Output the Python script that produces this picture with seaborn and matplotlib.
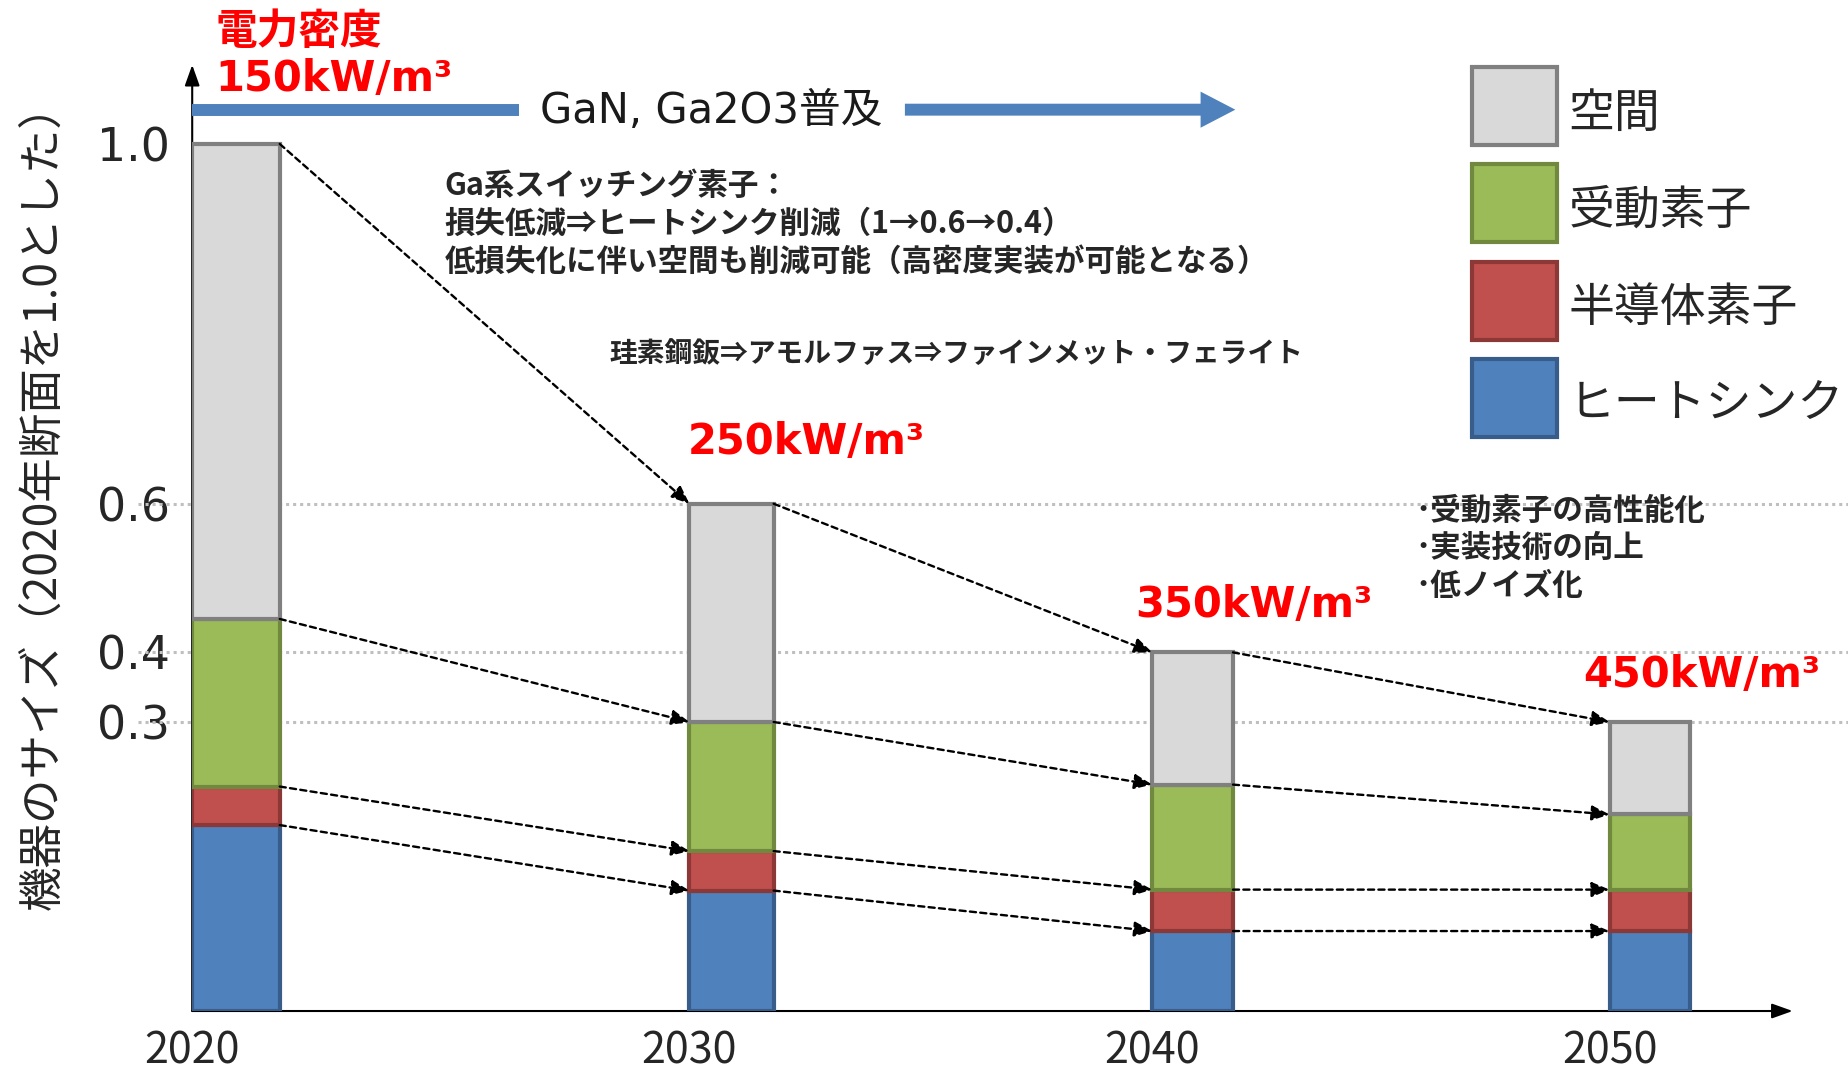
import numpy as np
import pandas as pd
import matplotlib
matplotlib.use("Agg")
import matplotlib.pyplot as plt
import matplotlib.transforms as mtransforms
from matplotlib.patches import Patch, FancyArrowPatch
from matplotlib.lines import Line2D
import seaborn as sns

# ---------------- data ----------------
years = ["2020", "2030", "2040", "2050"]
# stacking order, bottom to top
components = ["ヒートシンク", "半導体素子", "受動素子", "空間"]
heat_sink = [0.193, 0.125, 0.083, 0.083]
semiconductor = [0.040, 0.041, 0.043, 0.043]
passive = [0.212, 0.134, 0.109, 0.078]
space = [0.555, 0.300, 0.165, 0.096]
power_density = ["150kW/m³", "250kW/m³", "350kW/m³", "450kW/m³"]
y_ticks = [0.3, 0.4, 0.6, 1.0]
y_tick_labels = ["0.3", "0.4", "0.6", "1.0"]

note_ga = ["Ga系スイッチング素子：",
           "損失低減⇒ヒートシンク削減（1→0.6→0.4）",
           "低損失化に伴い空間も削減可能（高密度実装が可能となる）"]
note_core = "珪素鋼鈑⇒アモルファス⇒ファインメット・フェライト"
note_passive = ["･受動素子の高性能化", "･実装技術の向上", "･低ノイズ化"]

# ---------------- style ----------------
fills = ["#4F81BD", "#C0504D", "#9BBB59", "#D9D9D9"]
edges = ["#385D8A", "#8C3836", "#71893F", "#808080"]
BLUE = "#4F81BD"
RED = "#FF0000"
JP = ["Noto Sans CJK JP", "DejaVu Sans"]
LATIN = ["DejaVu Sans", "Noto Sans CJK JP"]

sns.set_style("white")
plt.rcParams["font.family"] = LATIN

# schematic (piecewise-linear) value axis
SCALE_VALUES = [-1.0, 0.0, 0.3, 0.4, 0.6, 1.0, 2.0]
SCALE_DISPLAY = [-817.0, 0.0, 245.0, 304.0, 430.0, 735.0, 1497.0]
# schematic spacing of the year categories
X_VALUES = [-1.0, 0.0, 1.0, 2.0, 3.0, 4.0]
X_DISPLAY = [-223.0, 199.0, 621.0, 1011.0, 1399.0, 1787.0]


def yfwd(v):
    return np.interp(v, SCALE_VALUES, SCALE_DISPLAY)


def yinv(p):
    return np.interp(p, SCALE_DISPLAY, SCALE_VALUES)


def xfwd(v):
    return np.interp(v, X_VALUES, X_DISPLAY)


def xinv(p):
    return np.interp(p, X_DISPLAY, X_VALUES)


fig = plt.figure(figsize=(18.49, 10.70), dpi=100)
fig.patch.set_facecolor("white")
ax = fig.add_axes([0.10395, 0.05513, 0.89605, 0.88423])
ax.set_facecolor("none")

df = pd.DataFrame({
    "year": years * 4,
    "component": np.repeat(components, len(years)),
    "value": heat_sink + semiconductor + passive + space,
})

BAR_W = 0.176
bottom = np.zeros(len(years))
for comp, fc, ec in zip(components, fills, edges):
    sub = df[df["component"] == comp]
    sns.barplot(data=sub, x="year", y="value", order=years, bottom=bottom,
                width=BAR_W, color=fc, edgecolor=ec, linewidth=3,
                saturation=1, errorbar=None, ax=ax, zorder=3)
    bottom = bottom + sub["value"].to_numpy()

ax.set_yscale("function", functions=(yfwd, yinv))
ax.set_xscale("function", functions=(xfwd, xinv))
ax.set_ylim(0, yinv(802.0))
ax.set_xlim(xinv(163.0), xinv(1568.0))

for s in ax.spines.values():
    s.set_visible(False)

half = BAR_W / 2
ax.set_xlabel("")
ax.set_ylabel("")
ax.set_yticks(y_ticks, labels=y_tick_labels)
ax.set_xticks(np.arange(len(years)) - half, labels=years)
ax.tick_params(axis="y", length=0, pad=16, labelsize=33)
ax.tick_params(axis="x", length=0, pad=13, labelsize=31)
for lbl in ax.get_xticklabels():
    lbl.set_fontfamily(JP)

# dotted reference lines at the later totals
cum = np.cumsum(np.vstack([heat_sink, semiconductor, passive, space]), axis=0)
ax.hlines(cum[-1, 1:], -0.0327, 1.0, transform=ax.get_yaxis_transform(),
          colors="#BFBFBF", linestyles=(0, (1, 1.3)), linewidth=2.2,
          zorder=1, clip_on=False)

# axis arrows
axis_arrow = dict(arrowstyle="-|>,head_length=0.7,head_width=0.25",
                  mutation_scale=18, lw=1.5, color="black",
                  shrinkA=0, shrinkB=0)
ax.annotate("", xy=(0, 1), xytext=(0, 0), xycoords="axes fraction",
            arrowprops=axis_arrow, zorder=2)
ax.annotate("", xy=(0.966, 0), xytext=(0, 0), xycoords="axes fraction",
            arrowprops=axis_arrow, zorder=2)

# dashed connectors between matching segment boundaries
conn = dict(arrowstyle="-|>,head_length=0.6,head_width=0.25",
            mutation_scale=18, lw=1.7, linestyle=(0, (2.6, 1.8)),
            color="black", shrinkA=0, shrinkB=0)
for lvl in range(cum.shape[0]):
    for i in range(len(years) - 1):
        ax.annotate("", xy=(i + 1 - half, cum[lvl, i + 1]),
                    xytext=(i + half, cum[lvl, i]),
                    arrowprops=conn, zorder=4)

# y label
fig.text(0.0227, 0.536, "機器のサイズ（2020年断面を1.0とした）", rotation=90,
         ha="center", va="center", fontsize=32, family=JP)

# GaN / Ga2O3 band
fig.add_artist(Line2D([0.1040, 0.2806], [0.8975, 0.8975],
                      transform=fig.transFigure, lw=8.6, color=BLUE,
                      solid_capstyle="butt"))
fig.text(0.2921, 0.8960, "GaN, Ga2O3普及", ha="left", va="center",
         fontsize=30, family=LATIN, color="#1a1a1a")
fig.add_artist(FancyArrowPatch(
    (0.4879, 0.8975), (0.6696, 0.8975), transform=fig.transFigure,
    arrowstyle="simple,head_length=25,head_width=26,tail_width=8.6",
    mutation_scale=1, color=BLUE, lw=0))

# power density labels
fig.text(0.1167, 0.9700, "電力密度", ha="left", va="center", fontsize=30,
         fontweight="bold", color=RED, family=JP)
density_pos = [(0.1167, 0.9262), (0.3718, 0.5867), (0.6142, 0.4347),
               (0.8565, 0.3696)]
for txt, (px, py) in zip(power_density, density_pos):
    fig.text(px, py, txt, ha="left", va="center", fontsize=30,
             fontweight="bold", color=RED, family=LATIN)

# notes
for line, py in zip(note_ga, [0.8259, 0.7907, 0.7553]):
    fig.text(0.2405, py, line, ha="left", va="center", fontsize=22,
             fontweight="bold", family=JP)
fig.text(0.3297, 0.6694, note_core, ha="left", va="center", fontsize=20,
         fontweight="bold", family=JP)
for line, py in zip(note_passive, [0.5228, 0.4876, 0.4522]):
    fig.text(0.7653, py, line, ha="left", va="center", fontsize=22,
             fontweight="bold", family=JP)

# legend, top to bottom
handles = [Patch(facecolor=fc, edgecolor=ec, linewidth=3)
           for fc, ec in zip(fills[::-1], edges[::-1])]
leg = fig.legend(handles, components[::-1], loc="upper left",
                 bbox_to_anchor=(0.7959, 0.9372), frameon=False,
                 prop=dict(family=JP, size=33), handlelength=1.86,
                 handleheight=2.24, labelspacing=0.42, handletextpad=0.25,
                 borderpad=0, borderaxespad=0)
# sit the legend labels slightly low against their swatches
drop = mtransforms.ScaledTranslation(0, -4.5 / 72, fig.dpi_scale_trans)
for t in leg.get_texts():
    t.set_transform(t.get_transform() + drop)

fig.savefig("out.png", dpi=100)
